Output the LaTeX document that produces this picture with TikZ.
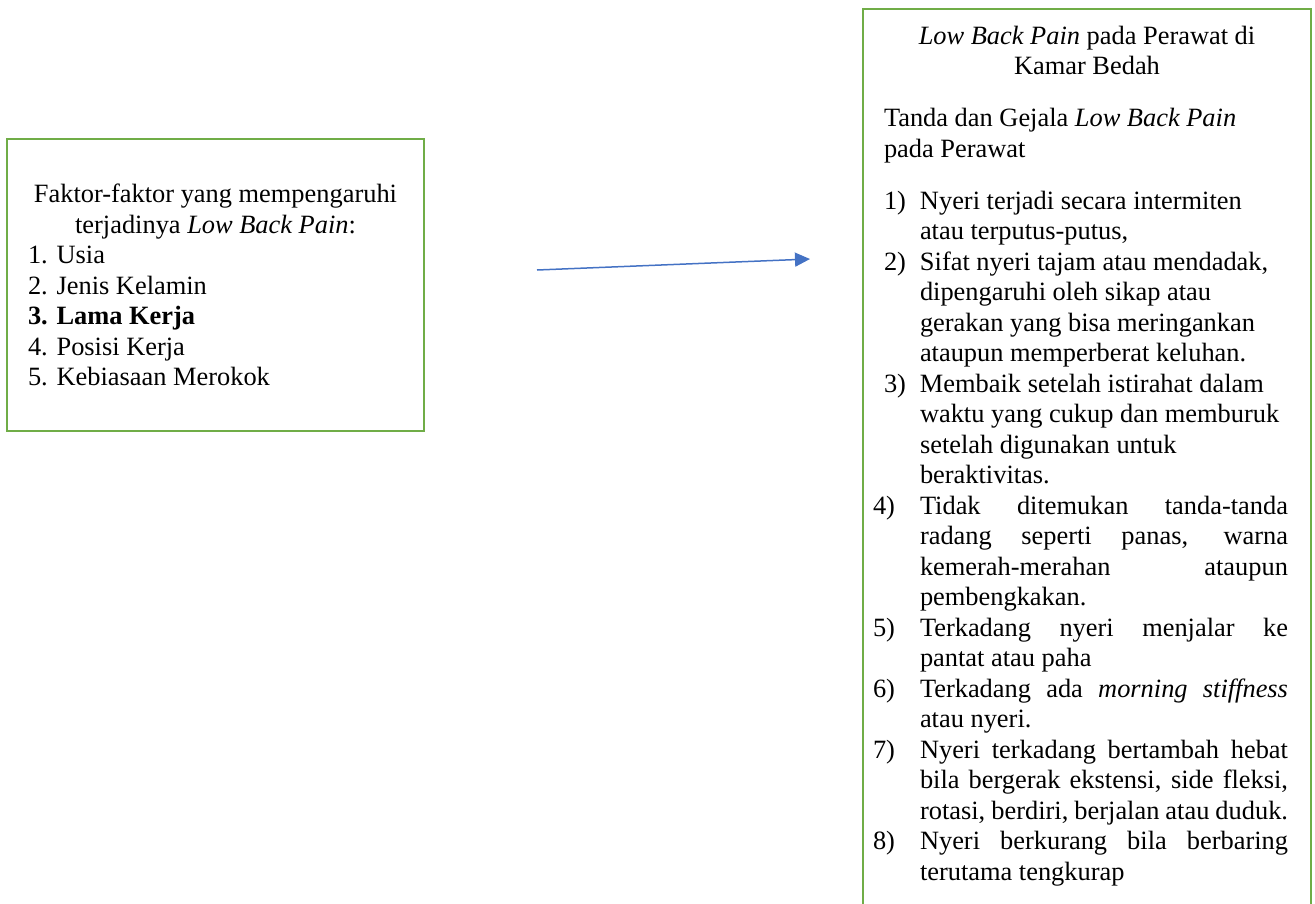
\documentclass[tikz,border=0pt]{standalone}
\usepackage{fontspec}
\setmainfont{Liberation Serif}
\usetikzlibrary{arrows.meta}

\definecolor{boxgreen}{HTML}{70AD47}
\definecolor{arrowblue}{HTML}{4472C4}

% list lines of the right box
\newcommand{\ragpoint}[2]{\hspace*{11pt}\makebox[36pt][l]{#1}#2}
\newcommand{\ragline}[1]{\hspace*{47pt}#1}
\newcommand{\juspoint}[2]{\makebox[47pt][l]{#1}\makebox[368pt][s]{#2}}
\newcommand{\jusline}[1]{\hspace*{47pt}\makebox[368pt][s]{#1}}

\begin{document}
\begin{tikzpicture}[x=1pt, y=-1pt, font=\fontsize{26.4}{30.5}\selectfont,
    box/.style={draw=boxgreen, line width=2pt},
    link/.style={draw=arrowblue, line width=1.5pt, -{Triangle[length=15pt, width=14pt]}}]

        % Page frame
        \useasboundingbox (0,0) rectangle (1315,903);
        \clip (0,0) rectangle (1315,903);

        % Factors box
        \node[box, minimum width=417pt, minimum height=292pt] (faktor) at (215.5,285) {\parbox{375pt}{%
            {\centering Faktor-faktor yang mempengaruhi\\ terjadinya \textit{Low Back Pain}:\par}
            \raggedright
            1. Usia\\
            2. Jenis Kelamin\\
            \textbf{3. Lama Kerja}\\
            4. Posisi Kerja\\
            5. Kebiasaan Merokok}};

        % Signs and symptoms box
        \node[box, anchor=north west, inner xsep=10pt, inner ysep=17pt, text height=18pt] (tanda) at (862,8) {\parbox[t]{428pt}{\raggedright
            {\centering\textit{Low Back Pain} pada Perawat di\\ Kamar Bedah\par}
            \vspace{21.5pt}
            \hspace*{11pt}Tanda dan Gejala \textit{Low Back Pain}\\
            \hspace*{11pt}pada Perawat\par
            \vspace{21.5pt}
            \ragpoint{1)}{Nyeri terjadi secara intermiten}\\
            \ragline{atau terputus-putus,}\\
            \ragpoint{2)}{Sifat nyeri tajam atau mendadak,}\\
            \ragline{dipengaruhi oleh sikap atau}\\
            \ragline{gerakan yang bisa meringankan}\\
            \ragline{ataupun memperberat keluhan.}\\
            \ragpoint{3)}{Membaik setelah istirahat dalam}\\
            \ragline{waktu yang cukup dan memburuk}\\
            \ragline{setelah digunakan untuk}\\
            \ragline{beraktivitas.}\\
            \juspoint{4)}{Tidak ditemukan tanda-tanda}\\
            \jusline{radang seperti panas, warna}\\
            \jusline{kemerah-merahan ataupun}\\
            \ragline{pembengkakan.}\\
            \juspoint{5)}{Terkadang nyeri menjalar ke}\\
            \ragline{pantat atau paha}\\
            \juspoint{6)}{Terkadang ada \textit{morning stiffness}}\\
            \ragline{atau nyeri.}\\
            \juspoint{7)}{Nyeri terkadang bertambah hebat}\\
            \jusline{bila bergerak ekstensi, side fleksi,}\\
            \jusline{rotasi, berdiri, berjalan atau duduk.}\\
            \juspoint{8)}{Nyeri berkurang bila berbaring}\\
            \ragline{terutama tengkurap}\\
            \rule{0pt}{40pt}}};

        % Arrow
        \coordinate (tail) at (537,270);
        \coordinate (head) at (810,259);
        \draw[link] (tail) -- (head);

    \end{tikzpicture}
\end{document}
